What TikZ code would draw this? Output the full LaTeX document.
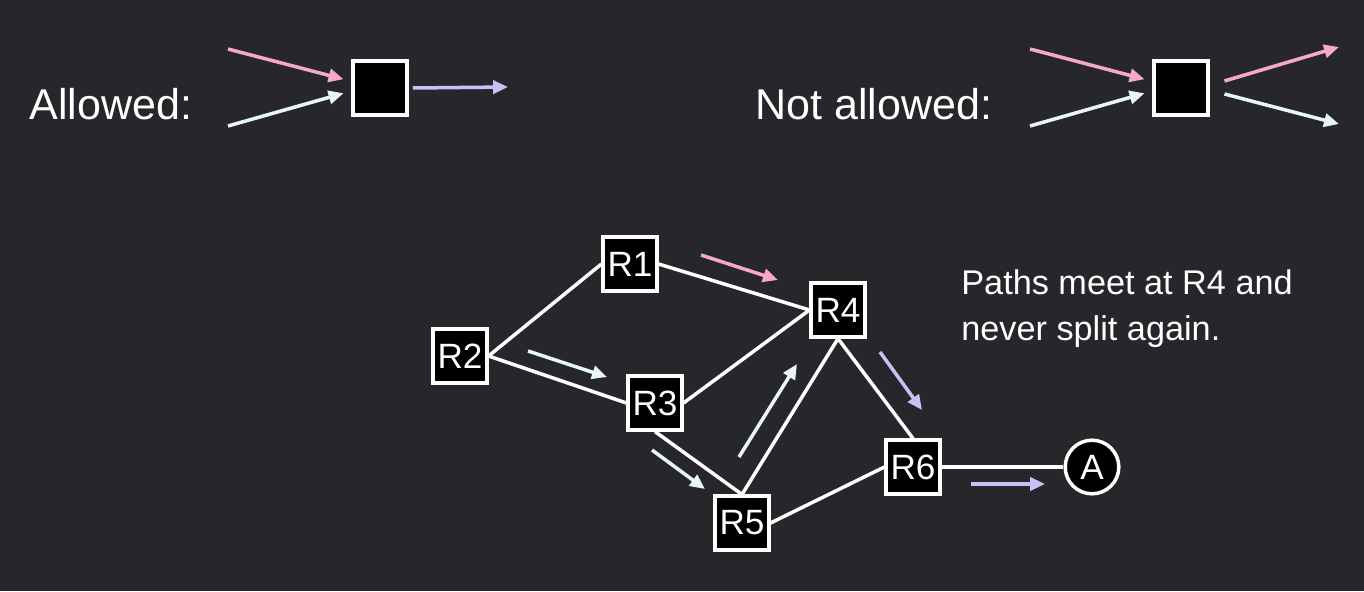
\documentclass[tikz,border=0pt]{standalone}
\usepackage{fontspec}
\setmainfont{Liberation Sans}
\usepackage{xcolor}
\usepackage{tikz}
\usetikzlibrary{arrows.meta, positioning}

\definecolor{bgdark}{RGB}{39,38,43}
\definecolor{flowpink}{RGB}{247,168,200}
\definecolor{flowblue}{RGB}{232,246,250}
\definecolor{flowpurple}{RGB}{205,190,245}

\begin{document}
\begin{tikzpicture}[x=0.02cm, y=-0.02cm, >={Triangle[length=8.5pt, width=7.5pt]}]
    \tikzstyle{router} = [draw=white, fill=black, rectangle, line width=2pt, minimum size=30.5pt, inner sep=0pt, text=white, font=\fontsize{20}{22}\selectfont]
    \tikzstyle{host} = [draw=white, fill=black, circle, line width=2pt, minimum size=30.5pt, inner sep=0pt, text=white, font=\fontsize{20}{22}\selectfont]
    \tikzstyle{link} = [draw=white, line width=2pt]
    \tikzstyle{flow} = [->, line width=2pt]
    \tikzstyle{caption} = [text=white, anchor=base west, inner sep=0pt]

    \fill [bgdark] (0,0) rectangle (1364,591);
    \useasboundingbox (0,0) rectangle (1364,591);

    % legend
    \node [caption, font=\fontsize{24.5}{28}\selectfont] (allowed) at (29,120) {Allowed:};
    \node [router] (okbox) at (380,88) {};
    \node [caption, font=\fontsize{24.5}{28}\selectfont] (notallowed) at (755,120) {Not allowed:};
    \node [router] (badbox) at (1181,88) {};

    \coordinate (okpink) at (228,49);
    \coordinate (okblue) at (228,126);
    \coordinate (okout) at (508,87);
    \draw [flow, flowpink] (okpink) -- ([xshift=-4.5pt, yshift=5pt]okbox.west);
    \draw [flow, flowblue] (okblue) -- ([xshift=-4.5pt, yshift=-3pt]okbox.west);
    \draw [flow, flowpurple] ([xshift=2.5pt]okbox.east) -- (okout);

    \coordinate (badpink) at (1030,49);
    \coordinate (badblue) at (1030,126);
    \coordinate (badpinkout) at (1339,47);
    \coordinate (badblueout) at (1339,124);
    \draw [flow, flowpink] (badpink) -- ([xshift=-4.5pt, yshift=5pt]badbox.west);
    \draw [flow, flowblue] (badblue) -- ([xshift=-4.5pt, yshift=-3pt]badbox.west);
    \draw [flow, flowpink] ([xshift=8.5pt, yshift=4pt]badbox.east) -- (badpinkout);
    \draw [flow, flowblue] ([xshift=8.5pt, yshift=-3.4pt]badbox.east) -- (badblueout);

    % network
    \node [router] (R1) at (630,264) {R1};
    \node [router] (R2) at (460,356) {R2};
    \node [router] (R3) at (655,403) {R3};
    \node [router] (R4) at (838,310) {R4};
    \node [router] (R5) at (742,523) {R5};
    \node [router] (R6) at (913,467) {R6};
    \node [host] (A) at (1092,467) {A};

    \draw [link] (R2.east) -- (R1.west);
    \draw [link] (R2.east) -- (R3.west);
    \draw [link] (R1.east) -- (R4.west);
    \draw [link] (R3.east) -- (R4.west);
    \draw [link] (R3.south) -- (R5.north);
    \draw [link] (R5.north) -- (R4.south);
    \draw [link] (R5.east) -- (R6.west);
    \draw [link] (R4.south) -- (R6.north);
    \draw [link] (R6.east) -- (A.west);

    % flow direction
    \coordinate (f1a) at (701,255);  \coordinate (f1b) at (778,280);
    \coordinate (f2a) at (528,351);  \coordinate (f2b) at (607,377);
    \coordinate (f3a) at (652,450);  \coordinate (f3b) at (705,489);
    \coordinate (f4a) at (739,457);  \coordinate (f4b) at (797,364);
    \coordinate (f5a) at (880,352);  \coordinate (f5b) at (922,410);
    \coordinate (f6a) at (971,484);  \coordinate (f6b) at (1045,484);
    \draw [flow, flowpink] (f1a) -- (f1b);
    \draw [flow, flowblue] (f2a) -- (f2b);
    \draw [flow, flowblue] (f3a) -- (f3b);
    \draw [flow, flowblue] (f4a) -- (f4b);
    \draw [flow, flowpurple] (f5a) -- (f5b);
    \draw [flow, flowpurple] (f6a) -- (f6b);

    \node [caption, font=\fontsize{19.5}{26}\selectfont] (note1) at (961,294) {Paths meet at R4 and};
    \node [caption, font=\fontsize{19.5}{26}\selectfont] (note2) at (961,340) {never split again.};
\end{tikzpicture}
\end{document}
